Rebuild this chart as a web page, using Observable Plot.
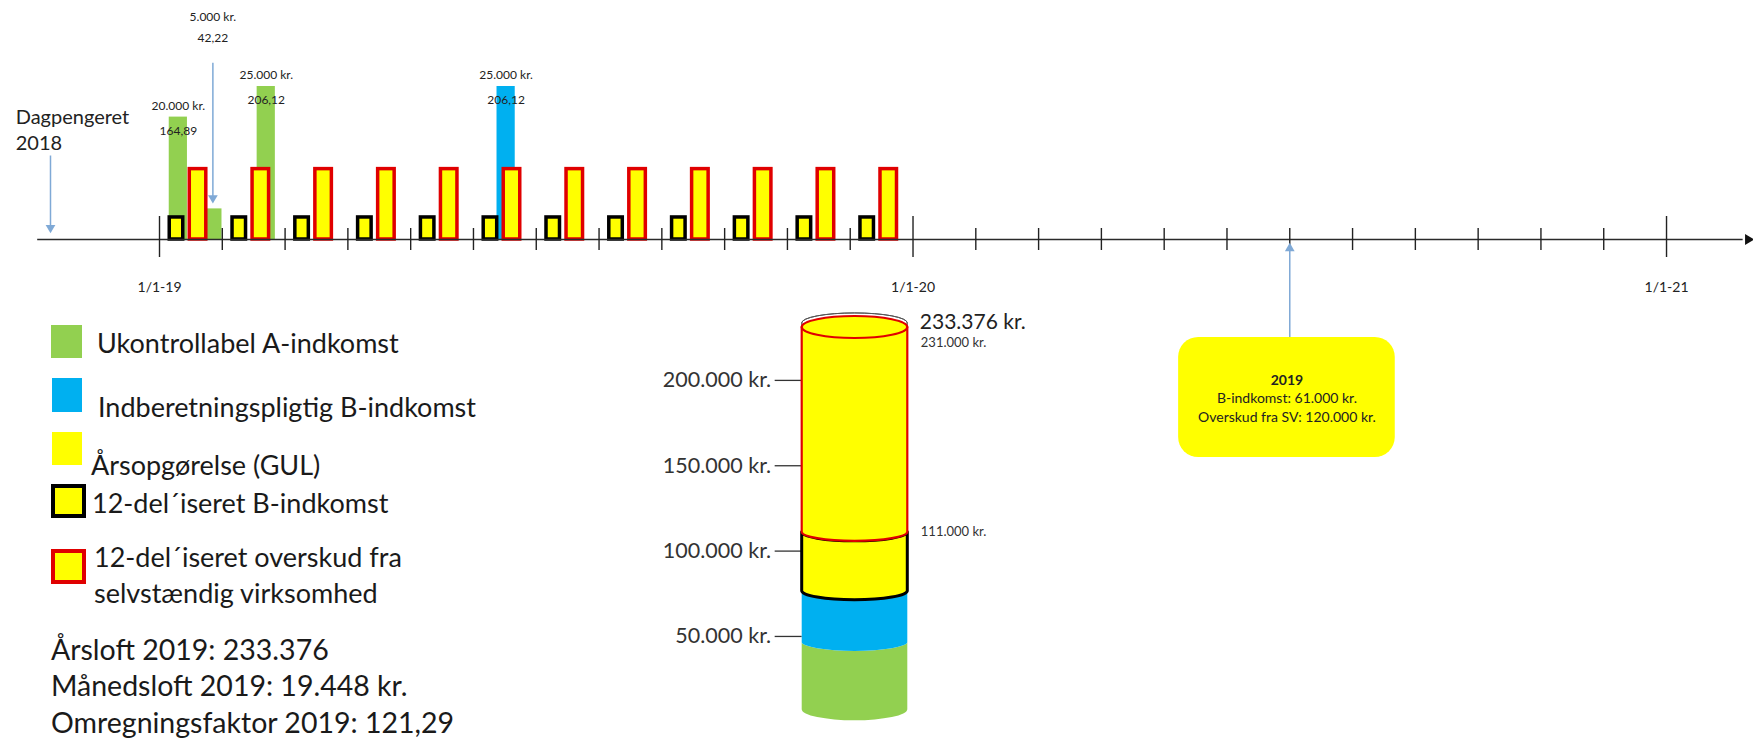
<!DOCTYPE html>
<html>
<head>
<meta charset="utf-8">
<script src="https://cdn.jsdelivr.net/npm/d3@7"></script>
<script src="https://cdn.jsdelivr.net/npm/@observablehq/plot@0.6"></script>
<style>
  body { margin: 0; background: #fff; font-family: Lato, "Open Sans", sans-serif; }
  #wrap { position: relative; width: 1753px; height: 740px; overflow: hidden; background: #fff; }
  #wrap > svg { position: absolute; left: 0; top: 0; }
  .sw { position: absolute; box-sizing: border-box; }
  .lt { position: absolute; font-size: 27px; line-height: 27px; color: #1a1a1a; white-space: nowrap; }
  .lt2 { position: absolute; font-size: 27px; line-height: 36px; color: #1a1a1a; white-space: nowrap; }
  .st { position: absolute; font-size: 28.5px; line-height: 36.5px; color: #1a1a1a; white-space: nowrap; }
</style>
</head>
<body>
<div id="wrap"></div>
<script>
// ---------------- DATA ----------------
// Timeline: month index 0 = January 2019
const monthIndex = [0, 1, 2, 3, 4, 5, 6, 7, 8, 9, 10, 11];
const bIncomeMonthly = [3600, 3600, 3600, 3600, 3600, 3600, 3600, 3600, 3600, 3600, 3600, 3600];      // 12-del'iseret B-indkomst
const surplusMonthly = [11500, 11500, 11500, 11500, 11500, 11500, 11500, 11500, 11500, 11500, 11500, 11500]; // 12-del'iseret overskud

const aIncomeTimes = [0.30, 0.85, 1.70];          // Ukontrollabel A-indkomst (time in months)
const aIncomeValues = [20000, 5000, 25000];
const aIncomeRates = ["164,89", "42,22", "206,12"];
const bIncomeTimes = [5.52];                       // Indberetningspligtig B-indkomst
const bIncomeValues = [25000];
const bIncomeRates = ["206,12"];

const axisTickMonths = [0, 1, 2, 3, 4, 5, 6, 7, 8, 9, 10, 11, 12, 13, 14, 15, 16, 17, 18, 19, 20, 21, 22, 23, 24];
const majorTickMonths = [0, 12, 24];
const majorTickLabels = ["1/1-19", "1/1-20", "1/1-21"];

const startLabel = "Dagpengeret\n2018";
const startMonth = -1.736;
const summaryMonth = 18;
const summaryTitle = "2019";
const summaryBIncome = 61000;
const summarySurplus = 120000;

// Cylinder (cumulative kr.)
const cylinderBounds = [0, 46500, 76500, 111000, 231000];
const cylinderNames = ["A-indkomst", "B-indkomst", "12-del B", "Overskud SV"];
const cylinderCeiling = 233376;
const cylinderTicks = [50000, 100000, 150000, 200000];
const cylinderMarkers = [233376, 231000, 111000];

// Legend
const legendLabels = ["Ukontrollabel A-indkomst", "Indberetningspligtig B-indkomst", "Årsopgørelse (GUL)", "12-del´iseret B-indkomst", "12-del´iseret overskud fra\nselvstændig virksomhed"];
const statLines = ["Årsloft 2019: 233.376", "Månedsloft 2019: 19.448 kr.", "Omregningsfaktor 2019: 121,29"];

// ---------------- STYLE ----------------
const GREEN = "#92d050", BLUE = "#00b0f0", YELLOW = "#ffff00", RED = "#e00000", BLACK = "#000000";
const ARROW = "#7fa9d6";
const fmt = d3.formatLocale({decimal: ",", thousands: ".", grouping: [3], currency: ["", ""]}).format(",.0f");
const kr = v => fmt(v) + " kr.";

const income = [
  ...aIncomeTimes.map((t, i) => ({t, v: aIncomeValues[i], rate: aIncomeRates[i], color: GREEN})),
  ...bIncomeTimes.map((t, i) => ({t, v: bIncomeValues[i], rate: bIncomeRates[i], color: BLUE}))
];
const labeled = income.filter(d => d.v >= 10000);
const callouts = income.filter(d => d.v < 10000);
const monthly = monthIndex.map((m, i) => ({m, b: bIncomeMonthly[i], s: surplusMonthly[i]}));
const minorTicks = axisTickMonths.filter(m => !majorTickMonths.includes(m));

const barW = 0.29;
const calloutTop = 28900;

const boxX1 = 16.23, boxX2 = 19.68, boxTop = -16013, boxBottom = -35620;

const font = "Lato, 'Open Sans', sans-serif";

const timeline = Plot.plot({
  width: 1753, height: 740,
  marginLeft: 33.42, marginRight: 0.32, marginTop: 86, marginBottom: 501,
  x: {domain: [-2, 25.38], axis: null},
  y: {domain: [0, 25000], axis: null},
  color: {type: "identity"},
  style: {fontFamily: font, background: "transparent", overflow: "visible"},
  marks: [
    // income bars
    Plot.rect(income, {x1: d => d.t - barW / 2, x2: d => d.t + barW / 2, y1: 0, y2: d => d.v, fill: d => d.color}),
    // monthly B-income (black outline)
    Plot.rect(monthly, {x1: d => d.m + 0.163, x2: d => d.m + 0.378, y1: 0, y2: d => d.b, fill: YELLOW, stroke: BLACK, strokeWidth: 3.5}),
    // monthly surplus (red outline)
    Plot.rect(monthly, {x1: d => d.m + 0.482, x2: d => d.m + 0.745, y1: 0, y2: d => d.s, fill: YELLOW, stroke: RED, strokeWidth: 3.5}),
    // time axis
    Plot.ruleY([0], {x1: -1.94, x2: 25.22, stroke: "#2a2a2a", strokeWidth: 1.6}),
    Plot.dot([0], {x: 25.3, y: 0, symbol: "triangle", rotate: 90, r: 4, fill: "#111", stroke: null}),
    Plot.ruleX(minorTicks, {x: d => d, y1: 0, y2: 0, insetTop: -11, insetBottom: -11, stroke: "#222", strokeWidth: 1.4}),
    Plot.ruleX(majorTickMonths, {x: d => d, y1: 0, y2: 0, insetTop: -23, insetBottom: -18, stroke: "#222", strokeWidth: 1.4}),
    Plot.text(majorTickMonths, {x: d => d, y: 0, text: (d, i) => majorTickLabels[i], dy: 48, fontSize: 14, fill: "#222"}),
    // bar value labels
    Plot.text(labeled, {x: "t", y: "v", text: d => kr(d.v), dy: -11, fontSize: 12, fill: "#222"}),
    Plot.text(labeled, {x: "t", y: "v", text: "rate", dy: 14, fontSize: 12, fill: "#222"}),
    // callout for small bar
    Plot.link(callouts, {x1: "t", x2: "t", y1: calloutTop, y2: d => d.v + 1300, stroke: ARROW, strokeWidth: 1.5}),
    Plot.dot(callouts, {x: "t", y: d => d.v + 1300, symbol: "triangle", rotate: 180, r: 3.6, fill: ARROW, stroke: null, dy: -3}),
    Plot.text(callouts, {x: "t", y: calloutTop, text: d => kr(d.v), dy: -45, fontSize: 12, fill: "#222"}),
    Plot.text(callouts, {x: "t", y: calloutTop, text: "rate", dy: -24, fontSize: 12, fill: "#222"}),
    // start marker
    Plot.link([startMonth], {x1: d => d, x2: d => d, y1: 13725, y2: 1600, stroke: ARROW, strokeWidth: 1.5}),
    Plot.dot([startMonth], {x: d => d, y: 1600, symbol: "triangle", rotate: 180, r: 3.6, fill: ARROW, stroke: null, dy: -2}),
    Plot.text([startLabel], {x: -2.29, y: 13725, text: d => d, dy: -27, textAnchor: "start", fontSize: 20, lineHeight: 1.3, fill: "#222"}),
    // summary box
    Plot.link([summaryMonth], {x1: d => d, x2: d => d, y1: boxTop, y2: -1300, stroke: ARROW, strokeWidth: 1.5}),
    Plot.dot([summaryMonth], {x: d => d, y: -1300, symbol: "triangle", r: 3.6, fill: ARROW, stroke: null, dy: 1}),
    Plot.rect([summaryMonth], {x1: boxX1, x2: boxX2, y1: boxTop, y2: boxBottom, rx: 20, fill: YELLOW}),
    Plot.text([summaryTitle], {x: (boxX1 + boxX2) / 2, y: boxTop, text: d => d, dy: 43, fontSize: 14, fontWeight: "bold", fill: "#222"}),
    Plot.text([summaryBIncome], {x: (boxX1 + boxX2) / 2, y: boxTop, text: d => "B-indkomst: " + kr(d), dy: 61.5, fontSize: 14, fill: "#222"}),
    Plot.text([summarySurplus], {x: (boxX1 + boxX2) / 2, y: boxTop, text: d => "Overskud fra SV: " + kr(d), dy: 80, fontSize: 14, fill: "#222"})
  ]
});

// ---------------- CYLINDER ----------------
const layers = cylinderNames.map((name, i) => ({name, v0: cylinderBounds[i], v1: cylinderBounds[i + 1]}));
const layerStyle = [
  {fill: GREEN, stroke: "none", sw: 0},
  {fill: BLUE, stroke: "none", sw: 0},
  {fill: YELLOW, stroke: BLACK, sw: 3},
  {fill: YELLOW, stroke: RED, sw: 2.2}
];

function cylinderMark(index, scales) {
  const {x, y} = scales;
  const g = d3.create("svg:g");
  const xl = x(0), xr = x(1), cx = (xl + xr) / 2, rx = (xr - xl) / 2, ry = 9, ryTop = 11;
  const Yc = y(cylinderCeiling);
  const Ytop = y(cylinderBounds[cylinderBounds.length - 1]);
  // container
  g.append("path")
    .attr("d", `M${xl},${Yc}L${xl},${Ytop + 6}M${xr},${Yc}L${xr},${Ytop + 6}`)
    .attr("stroke", "#555").attr("stroke-width", 1).attr("fill", "none");
  g.append("ellipse").attr("cx", cx).attr("cy", Yc).attr("rx", rx).attr("ry", 10)
    .attr("fill", "#fff").attr("stroke", "#555").attr("stroke-width", 1);
  layers.forEach((L, i) => {
    const st = layerStyle[i];
    const base = i === 0;
    const Y0 = base ? y(L.v0) - 12 : y(L.v0);
    const r0 = base ? 11 : ry;
    const Y1 = y(L.v1);
    g.append("path")
      .attr("d", `M${xl},${Y1}L${xl},${Y0}A${rx},${r0} 0 0 0 ${xr},${Y0}L${xr},${Y1}A${rx},${ry} 0 0 1 ${xl},${Y1}Z`)
      .attr("fill", st.fill).attr("stroke", st.stroke).attr("stroke-width", st.sw).attr("stroke-linejoin", "round");
  });
  // top face
  g.append("ellipse").attr("cx", cx).attr("cy", Ytop).attr("rx", rx).attr("ry", ryTop)
    .attr("fill", YELLOW).attr("stroke", RED).attr("stroke-width", 2.2);
  // container rim on top
  g.append("path")
    .attr("d", `M${xl},${Yc}A${rx},10 0 0 1 ${xr},${Yc}`)
    .attr("stroke", "#555").attr("stroke-width", 1).attr("fill", "none");
  return g.node();
}

const cylinder = Plot.plot({
  width: 1753, height: 740,
  marginLeft: 801.7, marginRight: 845.7, marginTop: 0, marginBottom: 0,
  x: {domain: [0, 1], range: [801.7, 907.3], axis: null},
  y: {domain: [0, 200000], range: [721.3, 379.9], axis: null},
  style: {fontFamily: font, background: "transparent", overflow: "visible"},
  marks: [
    Plot.ruleY(cylinderTicks, {y: d => d, x1: -0.256, x2: 0, stroke: "#333", strokeWidth: 1.3}),
    Plot.text(cylinderTicks, {y: d => d, x: 0, text: d => kr(d), dx: -31, textAnchor: "end", fontSize: 21.5, fill: "#333"}),
    cylinderMark,
    Plot.text([cylinderMarkers[0]], {x: 1, y: d => d, text: d => kr(d), dx: 12, dy: -1, textAnchor: "start", fontSize: 21, fill: "#222"}),
    Plot.text([cylinderMarkers[1]], {x: 1, y: d => d, text: d => kr(d), dx: 13, dy: 15, textAnchor: "start", fontSize: 13, fill: "#333"}),
    Plot.text([cylinderMarkers[2]], {x: 1, y: d => d, text: d => kr(d), dx: 13, dy: 0, textAnchor: "start", fontSize: 13, fill: "#333"})
  ]
});

const wrap = document.getElementById("wrap");
wrap.appendChild(timeline);
wrap.appendChild(cylinder);

// ---------------- LEGEND (HTML) ----------------
const legendSwatches = [
  {left: 51, top: 325, w: 31, h: 33, fill: GREEN, border: null},
  {left: 52, top: 378, w: 30, h: 34, fill: BLUE, border: null},
  {left: 52, top: 432, w: 30, h: 33, fill: YELLOW, border: null},
  {left: 51, top: 484, w: 35, h: 34, fill: YELLOW, border: BLACK},
  {left: 51, top: 549, w: 35, h: 35, fill: YELLOW, border: RED}
];
const legendTextPos = [
  {left: 97, top: 329}, {left: 98, top: 393}, {left: 91, top: 451}, {left: 92, top: 489}, {left: 94, top: 538.5}
];
legendLabels.forEach((lab, i) => {
  const s = legendSwatches[i];
  const sw = document.createElement("div");
  sw.className = "sw";
  sw.style.cssText = `left:${s.left}px;top:${s.top}px;width:${s.w}px;height:${s.h}px;background:${s.fill};` +
    (s.border ? `border:4px solid ${s.border};` : "");
  wrap.appendChild(sw);
  const t = document.createElement("div");
  const multi = lab.includes("\n");
  t.className = multi ? "lt2" : "lt";
  t.style.left = legendTextPos[i].left + "px";
  t.style.top = legendTextPos[i].top + "px";
  t.innerHTML = lab.split("\n").join("<br>");
  wrap.appendChild(t);
});
const stats = document.createElement("div");
stats.className = "st";
stats.style.left = "51px";
stats.style.top = "630.7px";
stats.innerHTML = statLines.join("<br>");
wrap.appendChild(stats);
</script>
</body>
</html>
